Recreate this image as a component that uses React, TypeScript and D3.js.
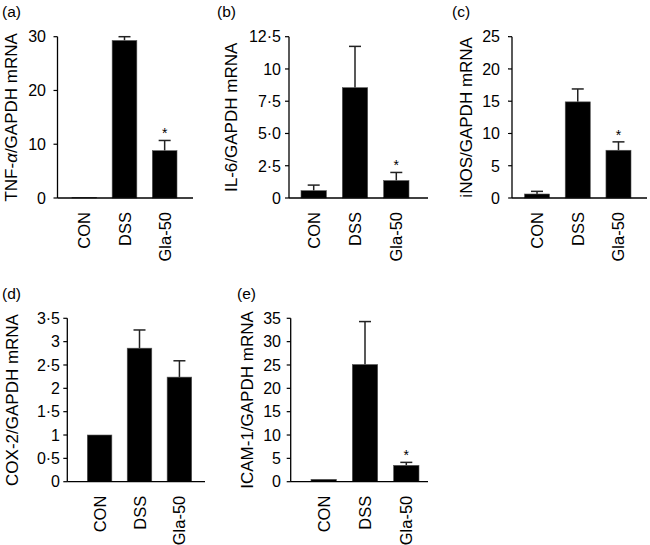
import React from "react";
import * as d3 from "d3";

const categories = ["CON", "DSS", "Gla-50"];

const tnfMeans = [0.1, 29.3, 8.8];
const tnfErrors = [0, 0.7, 1.9];
const tnfTicks = [0, 10, 20, 30];
const tnfTickLabels = ["0", "10", "20", "30"];

const il6Means = [0.57, 8.55, 1.35];
const il6Errors = [0.43, 3.2, 0.63];
const il6Ticks = [0, 2.5, 5, 7.5, 10, 12.5];
const il6TickLabels = ["0", "2·5", "5·0", "7·5", "10", "12·5"];

const inosMeans = [0.62, 14.9, 7.4];
const inosErrors = [0.41, 2.0, 1.3];
const inosTicks = [0, 5, 10, 15, 20, 25];
const inosTickLabels = ["0", "5", "10", "15", "20", "25"];

const cox2Means = [1.0, 2.86, 2.24];
const cox2Errors = [0, 0.39, 0.35];
const cox2Ticks = [0, 0.5, 1, 1.5, 2, 2.5, 3, 3.5];
const cox2TickLabels = ["0", "0·5", "1", "1·5", "2", "2·5", "3", "3·5"];

const icamMeans = [0.5, 25.1, 3.5];
const icamErrors = [0, 9.2, 0.64];
const icamTicks = [0, 5, 10, 15, 20, 25, 30, 35];
const icamTickLabels = ["0", "5", "10", "15", "20", "25", "30", "35"];

const sigAll = [false, false, true];
const sigNone = [false, false, false];

const FONT = "'Liberation Sans', Arial, Helvetica, sans-serif";

type PanelProps = {
  letter: string;
  letterX: number;
  letterY: number;
  title: React.ReactNode;
  titleX: number;
  means: number[];
  errors: number[];
  sig: boolean[];
  ticks: number[];
  tickLabels: string[];
  axisX: number;
  xEnd: number;
  yTop: number;
  yBot: number;
  barL: number;
  barR: number;
  tickLabelX: number;
};

function Panel(p: PanelProps) {
  const y = d3
    .scaleLinear()
    .domain([0, p.ticks[p.ticks.length - 1]])
    .range([p.yBot, p.yTop]);
  const x = d3
    .scaleBand<string>()
    .domain(categories)
    .range([p.barL, p.barR])
    .paddingInner(0.385)
    .paddingOuter(0);
  const bw = x.bandwidth();
  const cap = 6;
  return (
    <g>
      <text x={p.letterX} y={p.letterY} fontSize={15.5} fontFamily={FONT}>
        {p.letter}
      </text>
      <text
        transform={`translate(${p.titleX},${(p.yTop + p.yBot) / 2}) rotate(-90)`}
        textAnchor="middle"
        fontSize={17}
        fontFamily={FONT}
      >
        {p.title}
      </text>
      {p.ticks.map((t, i) => (
        <g key={i}>
          <line x1={p.axisX - 4} x2={p.axisX} y1={y(t)} y2={y(t)} stroke="#000" strokeWidth={1.2} />
          <text
            x={p.tickLabelX}
            y={y(t)}
            dy="0.36em"
            textAnchor="end"
            fontSize={16}
            fontFamily={FONT}
          >
            {p.tickLabels[i]}
          </text>
        </g>
      ))}
      {categories.map((c, i) => {
        const x0 = x(c) as number;
        const cx = x0 + bw / 2;
        const top = y(p.means[i]);
        const eTop = y(p.means[i] + p.errors[i]);
        return (
          <g key={c}>
            {p.errors[i] > 0 && (
              <g stroke="#222" strokeWidth={1.5}>
                <line x1={cx} x2={cx} y1={top} y2={eTop} />
                <line x1={cx - cap} x2={cx + cap} y1={eTop} y2={eTop} />
              </g>
            )}
            <rect x={x0} y={top} width={bw} height={p.yBot - top} fill="#000" stroke="#555" strokeWidth={0.6} />
            {p.sig[i] && (
              <text x={cx} y={eTop - 2} textAnchor="middle" fontSize={14} fontFamily={FONT}>
                *
              </text>
            )}
            <text
              transform={`translate(${cx + 6},${p.yBot + 14}) rotate(-90)`}
              textAnchor="end"
              fontSize={16.5}
              fontFamily={FONT}
            >
              {c}
            </text>
          </g>
        );
      })}
      <line x1={p.axisX} x2={p.axisX} y1={p.yTop} y2={p.yBot} stroke="#000" strokeWidth={1.3} />
      <line x1={p.axisX} x2={p.xEnd} y1={p.yBot} y2={p.yBot} stroke="#000" strokeWidth={1.3} />
    </g>
  );
}

export default function App() {
  return (
    <svg
      width={650}
      height={545}
      style={{ position: "absolute", left: 0, top: 0, background: "#fff" }}
    >
      <Panel
        letter="(a)"
        letterX={2}
        letterY={17}
        title={
          <>
            TNF-<tspan fontStyle="italic">α</tspan>/GAPDH mRNA
          </>
        }
        titleX={16.5}
        means={tnfMeans}
        errors={tnfErrors}
        sig={sigAll}
        ticks={tnfTicks}
        tickLabels={tnfTickLabels}
        axisX={57.5}
        xEnd={193}
        yTop={36.7}
        yBot={198}
        barL={72}
        barR={177}
        tickLabelX={46}
      />
      <Panel
        letter="(b)"
        letterX={217}
        letterY={17}
        title="IL-6/GAPDH mRNA"
        titleX={236.5}
        means={il6Means}
        errors={il6Errors}
        sig={sigAll}
        ticks={il6Ticks}
        tickLabels={il6TickLabels}
        axisX={289}
        xEnd={428}
        yTop={36.7}
        yBot={198}
        barL={301}
        barR={409}
        tickLabelX={281}
      />
      <Panel
        letter="(c)"
        letterX={452}
        letterY={17}
        title="iNOS/GAPDH mRNA"
        titleX={471.5}
        means={inosMeans}
        errors={inosErrors}
        sig={sigAll}
        ticks={inosTicks}
        tickLabels={inosTickLabels}
        axisX={512}
        xEnd={647}
        yTop={36.7}
        yBot={198}
        barL={524.5}
        barR={631}
        tickLabelX={500}
      />
      <Panel
        letter="(d)"
        letterX={2}
        letterY={299}
        title="COX-2/GAPDH mRNA"
        titleX={18}
        means={cox2Means}
        errors={cox2Errors}
        sig={sigNone}
        ticks={cox2Ticks}
        tickLabels={cox2TickLabels}
        axisX={67.3}
        xEnd={205}
        yTop={318.3}
        yBot={481.7}
        barL={87.3}
        barR={191.7}
        tickLabelX={60}
      />
      <Panel
        letter="(e)"
        letterX={237}
        letterY={299}
        title="ICAM-1/GAPDH mRNA"
        titleX={253}
        means={icamMeans}
        errors={icamErrors}
        sig={sigAll}
        ticks={icamTicks}
        tickLabels={icamTickLabels}
        axisX={290.7}
        xEnd={428}
        yTop={318.3}
        yBot={481.7}
        barL={311}
        barR={419}
        tickLabelX={281}
      />
    </svg>
  );
}
